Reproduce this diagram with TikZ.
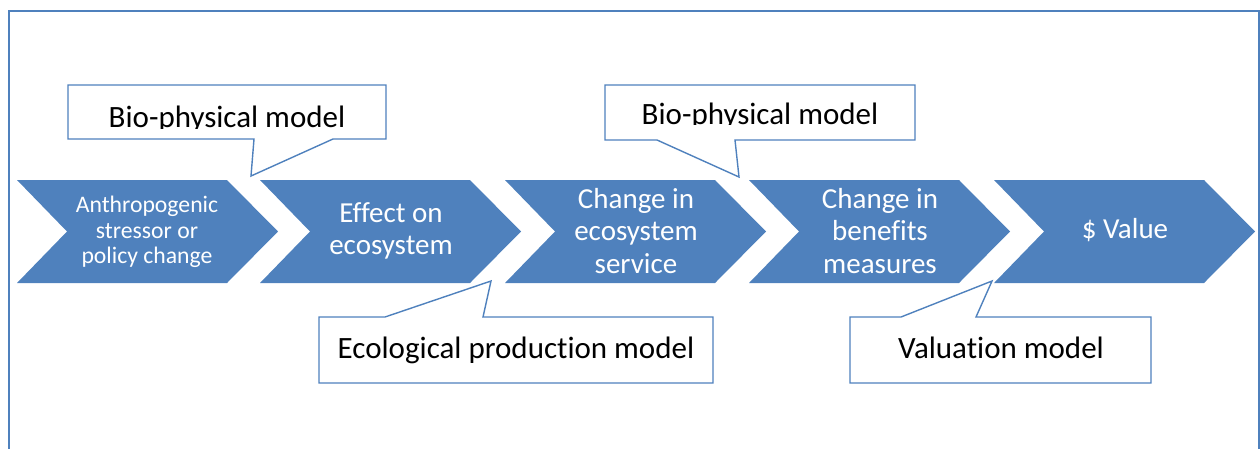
\documentclass[tikz,border=0pt]{standalone}
\usepackage{fontspec}
\setmainfont{Carlito}[Ligatures=NoCommon]
\definecolor{ofblue}{HTML}{4F81BD}
\newcommand\chevronshape[1]{\fill[chev] (#1,180) -- ++(210,0) -- ++(51,51.5) -- ++(-51,51.5) -- ++(-210,0) -- ++(50,-51.5) -- cycle;}
\begin{document}
\begin{tikzpicture}[x=1pt,y=-1pt,
  chev/.style={fill=ofblue,draw=none},
  chevtext/.style={text=white,align=center,font=\fontsize{29}{32.5}\selectfont,inner sep=0pt},
  smalltext/.style={font=\fontsize{23.7}{25.5}\selectfont},
  callout/.style={draw=ofblue,line width=1.4pt,fill=white,line join=miter},
  calltext/.style={font=\fontsize{31}{37}\selectfont,anchor=base,inner sep=0pt,text=black}]
\useasboundingbox (0,0) rectangle (1260,448);
\draw[ofblue,line width=2pt] (9,470) -- (9,10.5) -- (1258.5,10.5) -- (1258.5,470);
% chevrons
\chevronshape{17}
\chevronshape{260}
\chevronshape{505}
\chevronshape{749}
\chevronshape{994}
\node[chevtext,smalltext] (t1) at (147,232) {Anthropogenic\\stressor or\\policy change};
\node[chevtext] (t2) at (391,231) {Effect on\\ecosystem};
\node[chevtext] (t3) at (636,231) {Change in\\ecosystem\\service};
\node[chevtext] (t4) at (880,231) {Change in\\benefits\\measures};
\node[chevtext] (t5) at (1125,230) {\$ Value};
% callouts
\draw[callout] (68,85) -- (386,85) -- (386,139) -- (333,139) -- (251,176) -- (254,139) -- (68,139) -- cycle;
\draw[callout] (605,85) -- (915,85) -- (915,140) -- (735,140) -- (739,177) -- (657,140) -- (605,140) -- cycle;
\draw[callout] (319,317) -- (385,317) -- (491,281) -- (483,317) -- (713,317) -- (713,383) -- (319,383) -- cycle;
\draw[callout] (850,317) -- (901,317) -- (992,281) -- (976,317) -- (1151,317) -- (1151,383) -- (850,383) -- cycle;
\begin{scope}
\clip (68,85) rectangle (386,128);
\node[calltext] (c1) at (227,127) {Bio-physical model};
\end{scope}
\begin{scope}
\clip (605,85) rectangle (915,124.5);
\node[calltext] (c2) at (760,124) {Bio-physical model};
\end{scope}
\node[calltext] (c3) at (516,358) {Ecological production model};
\node[calltext] (c4) at (1001,358) {Valuation model};
\end{tikzpicture}
\end{document}
